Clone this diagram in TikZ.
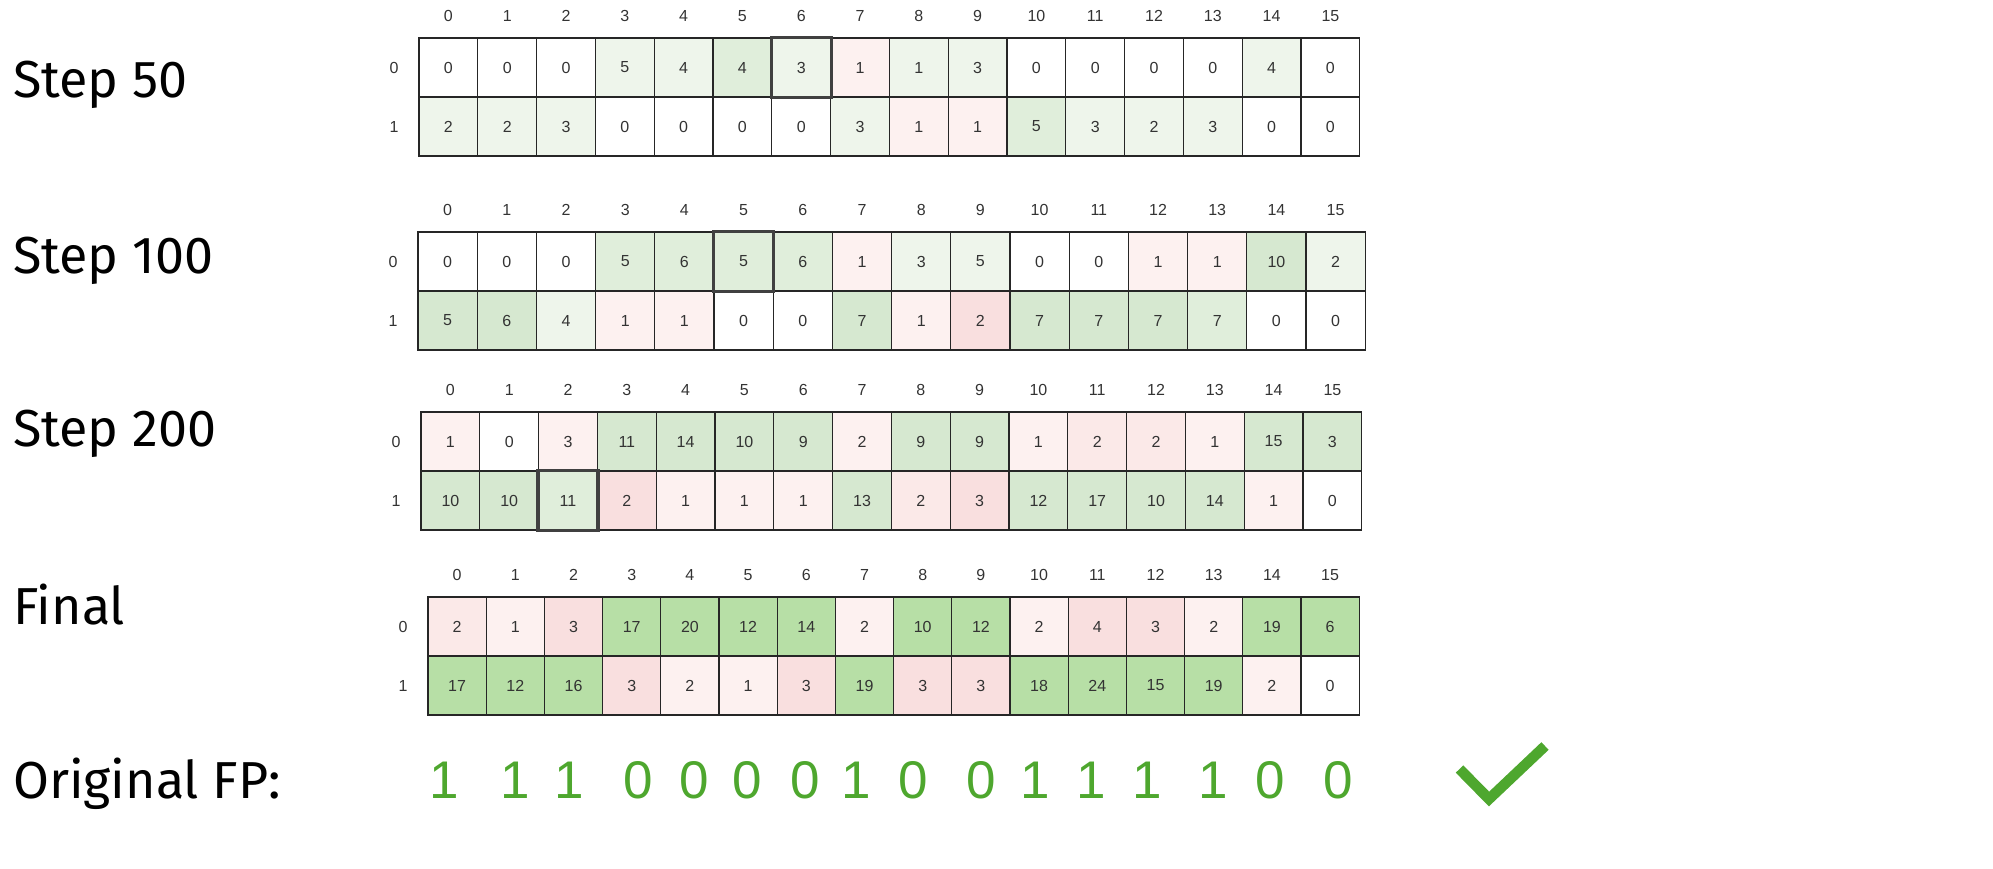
\documentclass[tikz,border=0pt]{standalone}
\usepackage{fontspec}
\setmainfont{Liberation Sans}
\newfontfamily\labelfont{Fira Sans}
\usepackage{tikz}
\usetikzlibrary{positioning}
\definecolor{w}{RGB}{255,255,255}
\definecolor{g1}{RGB}{238,245,235}
\definecolor{g2}{RGB}{224,238,219}
\definecolor{g3}{RGB}{214,232,208}
\definecolor{g4}{RGB}{183,223,166}
\definecolor{r1}{RGB}{253,241,240}
\definecolor{r2}{RGB}{251,233,232}
\definecolor{r3}{RGB}{249,223,223}
\definecolor{fpgreen}{RGB}{78,167,46}

% snapshot grid: name, left, top, cell width, row 0 (value/fill), row 1 (value/fill)
\newcommand{\snapshot}[6]{%
    \foreach \i in {0,...,15}
        \node[idx] (#1-h\i) at ({#2+(\i+0.5)*#4}, {#3-22}) {\i};
    \node[idx] (#1-r0) at ({#2-25}, {#3+29.5}) {0};
    \node[idx] (#1-r1) at ({#2-25}, {#3+88.5}) {1};
    \foreach \v/\c [count=\i from 0] in {#5}
        \node[cell, minimum width=#4pt, fill=\c] (#1-0-\i) at ({#2+(\i+0.5)*#4}, {#3+29.5}) {\v};
    \foreach \v/\c [count=\i from 0] in {#6}
        \node[cell, minimum width=#4pt, fill=\c] (#1-1-\i) at ({#2+(\i+0.5)*#4}, {#3+88.5}) {\v};
}

\begin{document}
\begin{tikzpicture}[
    x=1pt, y=-1pt,
    cell/.style={draw=black!85, line width=1.3pt, minimum height=59pt, inner sep=0pt, font=\fontsize{16}{18}\selectfont, text=black!80},
    idx/.style={inner sep=0pt, font=\fontsize{16}{18}\selectfont, text=black!80},
    hilite/.style={draw=black!75, line width=3.2pt},
    steplabel/.style={anchor=base west, inner sep=0pt, font=\labelfont\fontsize{52}{62}\selectfont},
    fpbit/.style={anchor=base, inner sep=0pt, text=fpgreen, font=\fontsize{53}{60}\selectfont},
    tick/.style={draw=fpgreen, line width=10.5pt, line join=miter}
]
    \useasboundingbox (0,0) rectangle (1993,868);

    % Step 50
    \node[steplabel] (lab50) at (13,97) {Step 50};
    \snapshot{s50}{419}{38}{58.8}
        {0/w,0/w,0/w,5/g1,4/g1,4/g2,3/g1,1/r1,1/g1,3/g1,0/w,0/w,0/w,0/w,4/g1,0/w}
        {2/g1,2/g1,3/g1,0/w,0/w,0/w,0/w,3/g1,1/r1,1/r1,5/g2,3/g1,2/g1,3/g1,0/w,0/w}
    \draw[hilite] (s50-0-6.north west) rectangle (s50-0-6.south east);

    % Step 100
    \node[steplabel] (lab100) at (13,273) {Step 100};
    \snapshot{s100}{418}{232}{59.2}
        {0/w,0/w,0/w,5/g2,6/g2,5/g2,6/g2,1/r1,3/g1,5/g1,0/w,0/w,1/r1,1/r1,10/g3,2/g1}
        {5/g3,6/g3,4/g1,1/r1,1/r1,0/w,0/w,7/g3,1/r1,2/r3,7/g3,7/g3,7/g3,7/g2,0/w,0/w}
    \draw[hilite] (s100-0-5.north west) rectangle (s100-0-5.south east);

    % Step 200
    \node[steplabel] (lab200) at (13,446) {Step 200};
    \snapshot{s200}{421}{412}{58.8}
        {1/r1,0/w,3/r1,11/g3,14/g3,10/g3,9/g3,2/r1,9/g3,9/g3,1/r1,2/r2,2/r2,1/r1,15/g3,3/g3}
        {10/g3,10/g3,11/g2,2/r3,1/r1,1/r1,1/r1,13/g3,2/r2,3/r3,12/g3,17/g3,10/g3,14/g3,1/r1,0/w}
    \draw[hilite] (s200-1-2.north west) rectangle (s200-1-2.south east);

    % Final
    \node[steplabel] (labfin) at (13,624) {Final};
    \snapshot{fin}{428}{597}{58.2}
        {2/r2,1/r1,3/r3,17/g4,20/g4,12/g4,14/g4,2/r1,10/g4,12/g4,2/r1,4/r3,3/r3,2/r1,19/g4,6/g4}
        {17/g4,12/g4,16/g4,3/r3,2/r1,1/r1,3/r3,19/g4,3/r3,3/r3,18/g4,24/g4,15/g4,19/g4,2/r1,0/w}

    % Original fingerprint
    \node[steplabel] (labfp) at (13,798) {Original FP:};
    \foreach \b/\x [count=\i from 0] in {1/444,1/515,1/569,0/638,0/694,0/747,0/805,1/856,
        0/913,0/981,1/1035,1/1091,1/1147,1/1213,0/1270,0/1338}
        \node[fpbit] (fp\i) at (\x,798) {\b};

    % Match
    \draw[tick] (1459.5,769) -- (1489,799) -- (1545,746);
\end{tikzpicture}
\end{document}
